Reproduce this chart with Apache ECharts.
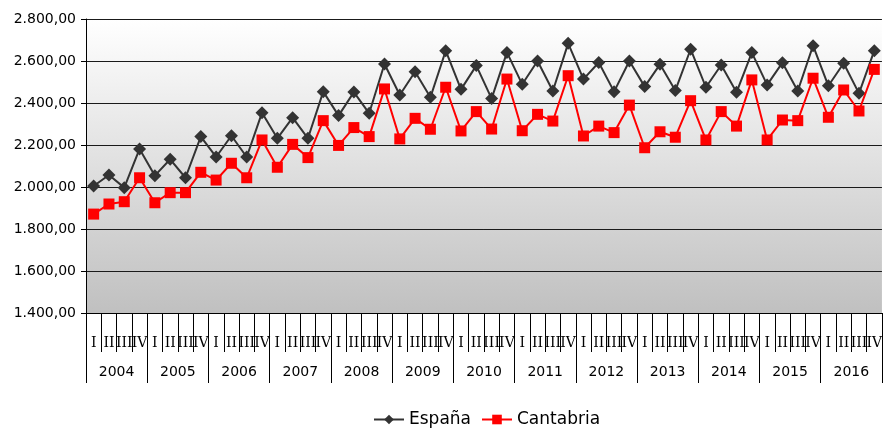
<!DOCTYPE html>
<html>
<head>
<meta charset="utf-8">
<script src="https://cdn.jsdelivr.net/npm/echarts@6/dist/echarts.min.js"></script>
<style>html,body{margin:0;padding:0;background:#fff}#c{width:885px;height:430px}</style>
</head>
<body>
<div id="c"></div>
<script>
var years = ['2004','2005','2006','2007','2008','2009','2010','2011','2012','2013','2014','2015','2016'];
var quarterNames = ['I','II','III','IV'];
var espana = [
  2005, 2057, 1997, 2181,
  2054, 2132, 2044, 2240,
  2143, 2244, 2143, 2354,
  2232, 2330, 2232, 2454,
  2340, 2452, 2351, 2586,
  2438, 2549, 2427, 2649,
  2465, 2578, 2421, 2641,
  2489, 2600, 2457, 2684,
  2514, 2593, 2454, 2600,
  2478, 2584, 2459, 2656,
  2475, 2581, 2451, 2640,
  2486, 2592, 2457, 2673,
  2482, 2589, 2446, 2649
];
var cantabria = [
  1871, 1919, 1930, 2044,
  1925, 1973, 1973, 2070,
  2033, 2113, 2044, 2224,
  2094, 2203, 2140, 2316,
  2198, 2283, 2240, 2467,
  2229, 2327, 2275, 2475,
  2267, 2359, 2276, 2514,
  2268, 2346, 2314, 2530,
  2243, 2290, 2259, 2390,
  2187, 2263, 2237, 2411,
  2224, 2359, 2290, 2510,
  2224, 2319, 2316, 2518,
  2332, 2462, 2362, 2560
];

var quarters = [];
years.forEach(function (y) { quarterNames.forEach(function (q) { quarters.push(q); }); });

function fmt(v) {
  var s = String(Math.round(v));
  s = s.replace(/\B(?=(\d{3})+(?!\d))/g, '.');
  return s + ',00';
}

var chart = echarts.init(document.getElementById('c'), null, {renderer: 'canvas'});
chart.setOption({
  animation: false,
  grid: {
    left: 86, top: 19, width: 807, height: 294,
    show: true, borderWidth: 0,
    backgroundColor: new echarts.graphic.LinearGradient(0, 0, 0, 1, [
      {offset: 0, color: '#ffffff'},
      {offset: 1, color: '#c0c0c0'}
    ])
  },
  xAxis: [{
    type: 'category',
    data: quarters,
    boundaryGap: true,
    axisLine: {show: true, lineStyle: {color: '#000', width: 1}},
    axisTick: {show: true, interval: 0, length: 39, lineStyle: {color: '#000'}},
    axisLabel: {interval: 0, margin: 23, fontFamily: 'DejaVu Serif', fontSize: 14, color: '#000', hideOverlap: false},
    splitLine: {show: false}
  }, {
    type: 'category',
    data: years,
    position: 'bottom',
    boundaryGap: true,
    axisLine: {show: false},
    axisTick: {show: true, interval: 0, length: 70, lineStyle: {color: '#000'}},
    axisLabel: {interval: 0, margin: 52, fontFamily: 'DejaVu Sans', fontSize: 14, color: '#000'},
    splitLine: {show: false}
  }],
  yAxis: {
    type: 'value',
    min: 1400, max: 2800, interval: 200,
    axisLine: {show: true, lineStyle: {color: '#000', width: 1}},
    axisTick: {show: true, length: 5, lineStyle: {color: '#000'}},
    axisLabel: {margin: 10, fontFamily: 'DejaVu Sans', fontSize: 14, color: '#000', formatter: fmt},
    splitLine: {show: true, lineStyle: {color: '#1a1a1a', width: 1}}
  },
  legend: {
    left: 368, top: 406,
    itemWidth: 30, itemHeight: 12, itemGap: 10,
    textStyle: {fontFamily: 'DejaVu Sans', fontSize: 17, color: '#000'},
    data: ['España', 'Cantabria']
  },
  series: [{
    name: 'España',
    type: 'line',
    xAxisIndex: 0,
    data: espana,
    color: '#333333',
    symbol: 'diamond', symbolSize: 13,
    lineStyle: {width: 2, color: '#333333'},
    itemStyle: {color: '#333333'},
    z: 3
  }, {
    name: 'Cantabria',
    type: 'line',
    xAxisIndex: 0,
    data: cantabria,
    color: '#ff0000',
    symbol: 'rect', symbolSize: 11,
    lineStyle: {width: 2, color: '#ff0000'},
    itemStyle: {color: '#ff0000'},
    z: 4
  }]
});
</script>
</body>
</html>
